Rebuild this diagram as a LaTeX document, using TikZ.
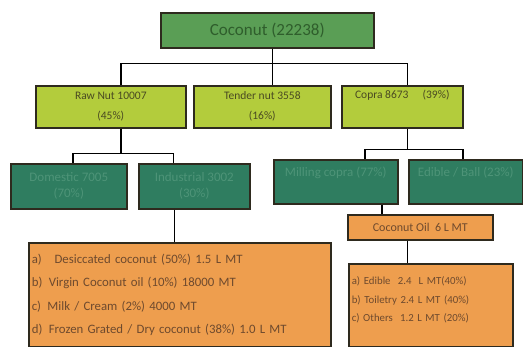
\documentclass[tikz,border=0pt]{standalone}
\usepackage{fontspec}
\setmainfont{Carlito}
\usetikzlibrary{positioning}

\definecolor{topgreen}{HTML}{5A9E55}
\definecolor{topink}{HTML}{2F5E2C}
\definecolor{limegreen}{HTML}{B3CC3C}
\definecolor{limeink}{HTML}{4A4A22}
\definecolor{tealbox}{HTML}{2F7D60}
\definecolor{tealink}{HTML}{4E9478}
\definecolor{orangebox}{HTML}{EE9E4E}
\definecolor{orangeink}{HTML}{6E4A2E}
\definecolor{boxline}{HTML}{2E2A1E}

\begin{document}
\begin{tikzpicture}[
        x=1pt, y=-1pt,
        box/.style={
            rectangle, draw=boxline, line width=1.6pt,
            anchor=north west, inner sep=2pt, align=center
        },
        rootbox/.style={box, fill=topgreen, text=topink,
            minimum width=213pt, minimum height=35pt, font=\fontsize{17}{19}\selectfont},
        cropbox/.style={box, fill=limegreen, text=limeink,
            minimum height=42pt, font=\fontsize{11.5}{20}\selectfont},
        usebox/.style={box, fill=tealbox, text=tealink,
            font=\fontsize{13}{16}\selectfont},
        prodbox/.style={box, fill=orangebox, text=orangeink},
        link/.style={line width=1.6pt, black}
    ]
    \useasboundingbox (0,0) rectangle (523,347);

    % Top
    \node[rootbox] (coconut) at (160,12) {Coconut (22238)};

    % Second row
    \node[cropbox, minimum width=150pt] (rawnut) at (35,85) {Raw Nut 10007\\(45\%)};
    \node[cropbox, minimum width=137pt] (tender) at (193,85) {Tender nut 3558\\(16\%)};
    \node[cropbox, minimum width=121pt] (copra) at (341,85) {Copra 8673 \quad(39\%)\\\strut};

    % Third row
    \node[usebox, minimum width=116pt, minimum height=45pt] (domestic) at (10,163) {Domestic 7005\\(70\%)};
    \node[usebox, minimum width=111pt, minimum height=45pt] (industrial) at (138,163) {Industrial 3002\\(30\%)};
    \node[usebox, minimum width=124pt, minimum height=44pt] (milling) at (273,159) {Milling copra (77\%)\\\strut};
    \node[usebox, minimum width=114pt, minimum height=44pt] (edible) at (408,159) {Edible / Ball (23\%)\\\strut};

    % Products
    \node[prodbox, minimum width=302pt, minimum height=104pt, text width=296pt, align=left,
        font=\fontsize{12.8}{23.5}\selectfont] (rawlist) at (28,242)
        {a)\quad Desiccated coconut (50\%) 1.5 L MT\\
         b)\enspace Virgin Coconut oil (10\%) 18000 MT\\
         c)\enspace Milk / Cream (2\%) 4000 MT\\
         d)\enspace Frozen Grated / Dry coconut (38\%) 1.0 L MT};
    \node[prodbox, minimum width=145pt, minimum height=25pt,
        font=\fontsize{12}{14}\selectfont] (oil) at (347,214) {Coconut Oil \ 6 L MT};
    \node[prodbox, minimum width=164pt, minimum height=83pt, text width=158pt, align=left,
        font=\fontsize{10.8}{18.5}\selectfont] (oillist) at (348,263)
        {a) Edible \ 2.4 \ L MT(40\%)\\
         b) Toiletry 2.4 L MT (40\%)\\
         c) Others \ 1.2 L MT (20\%)\par\vspace{10pt}};

    % Connectors
    \draw[link] ([xshift=5pt]coconut.south) -- ++(0,15) -| ([xshift=10pt]rawnut.north);
    \draw[link] ([xshift=5pt]coconut.south) -- ++(0,15) -| ([xshift=10pt]tender.north);
    \draw[link] ([xshift=5pt]coconut.south) -- ++(0,15) -| ([xshift=5pt]copra.north);

    \draw[link] ([xshift=10pt]rawnut.south) -- ++(0,25) -| ([xshift=4pt]domestic.north);
    \draw[link] ([xshift=10pt]rawnut.south) -- ++(0,25) -| ([xshift=-21pt]industrial.north);
    \draw[link] ([xshift=-20pt]industrial.south) -- ([xshift=-20pt]industrial.south |- rawlist.north);

    \draw[link] ([xshift=5pt]copra.south) -- ++(0,21) -| ([xshift=29pt]milling.north);
    \draw[link] ([xshift=5pt]copra.south) -- ++(0,21) -| ([xshift=-3pt]edible.north);
    \draw[link] ([xshift=46pt]milling.south) -- ([xshift=46pt]milling.south |- oil.north);
    \draw[link] ([xshift=-13pt]oil.south) -- ([xshift=-13pt]oil.south |- oillist.north);
\end{tikzpicture}
\end{document}
